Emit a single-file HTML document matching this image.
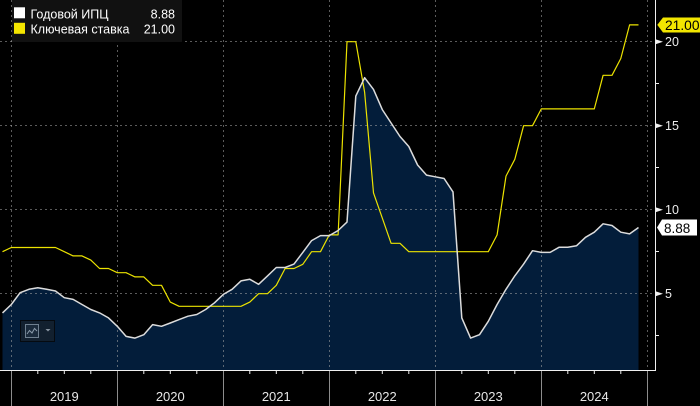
<!DOCTYPE html>
<html>
<head>
<meta charset="utf-8">
<style>
html,body{margin:0;padding:0;background:#000;}
svg{display:block;}
text{font-family:"Liberation Sans","DejaVu Sans",sans-serif;}
</style>
</head>
<body>
<svg width="700" height="406" viewBox="0 0 700 406" xmlns="http://www.w3.org/2000/svg">
<rect x="0" y="0" width="700" height="406" fill="#000"/>

<!-- CPI area -->
<polygon fill="#031d3a" points="2.5,370 2.5,312.9 11.3,304.5 20.1,292.7 29.0,289.3 37.8,287.7 46.6,289.3 55.5,291.0 64.3,297.7 73.1,299.4 82.0,304.5 90.8,309.5 99.6,312.9 108.5,317.9 117.3,326.3 126.1,336.4 135.0,338.1 143.8,334.7 152.6,324.6 161.5,326.3 170.3,323.0 179.1,319.6 188.0,316.2 196.8,314.5 205.6,309.5 214.5,302.8 223.3,294.4 232.1,289.3 241.0,280.9 249.8,279.3 258.6,284.3 267.5,275.9 276.3,267.5 285.1,267.5 294.0,264.1 302.8,252.4 311.6,240.6 320.5,235.6 329.3,235.6 338.1,230.5 347.0,222.1 355.8,96.1 364.6,77.7 373.5,89.4 382.3,109.6 391.1,123.0 400.0,136.5 408.8,146.5 417.6,165.0 426.5,175.1 435.3,176.8 444.1,178.5 453.0,191.9 461.8,317.9 470.6,338.1 479.5,334.7 488.3,321.3 497.1,304.5 506.0,289.3 514.8,275.9 523.6,264.1 532.5,250.7 541.3,252.4 550.1,252.4 559.0,247.3 567.8,247.3 576.6,245.7 585.5,237.3 594.3,232.2 603.1,223.8 612.0,225.5 620.8,232.2 629.6,233.9 638.5,227.5 638.5,370"/>

<!-- grid -->
<g stroke="rgba(165,165,165,0.55)" stroke-width="1" stroke-dasharray="2,3" fill="none">
<line x1="0" y1="41.5" x2="655" y2="41.5"/>
<line x1="0" y1="125.5" x2="655" y2="125.5"/>
<line x1="0" y1="209.5" x2="655" y2="209.5"/>
<line x1="0" y1="293.5" x2="655" y2="293.5"/>
<line x1="11.5" y1="0" x2="11.5" y2="370"/>
<line x1="117.5" y1="0" x2="117.5" y2="370"/>
<line x1="223.5" y1="0" x2="223.5" y2="370"/>
<line x1="329.5" y1="0" x2="329.5" y2="370"/>
<line x1="435.5" y1="0" x2="435.5" y2="370"/>
<line x1="541.5" y1="0" x2="541.5" y2="370"/>
<line x1="647.5" y1="0" x2="647.5" y2="370"/>
</g>

<!-- key rate -->
<polyline fill="none" stroke="#ece300" stroke-width="1.2" stroke-linejoin="round" points="2.5,251.7 11.3,247.5 55.5,247.5 64.3,251.7 73.1,255.9 82.0,255.9 90.8,260.1 99.6,268.5 108.5,268.5 117.3,272.7 126.1,272.7 135.0,276.9 143.8,276.9 152.6,285.3 161.5,285.3 170.3,302.1 179.1,306.3 241.0,306.3 249.8,302.1 258.6,293.7 267.5,293.7 276.3,285.3 285.1,268.5 294.0,268.5 302.8,264.3 311.6,251.7 320.5,251.7 329.3,234.9 338.1,234.9 347.0,41.7 355.8,41.7 364.6,92.1 373.5,192.9 382.3,218.1 391.1,243.3 400.0,243.3 408.8,251.7 488.3,251.7 497.1,234.9 506.0,176.1 514.8,159.3 523.6,125.7 532.5,125.7 541.3,108.9 594.3,108.9 603.1,75.3 612.0,75.3 620.8,58.5 629.6,24.9 638.5,24.9"/>

<!-- CPI line -->
<polyline fill="none" stroke="#dcdcdc" stroke-width="1.5" stroke-linejoin="round" points="2.5,312.9 11.3,304.5 20.1,292.7 29.0,289.3 37.8,287.7 46.6,289.3 55.5,291.0 64.3,297.7 73.1,299.4 82.0,304.5 90.8,309.5 99.6,312.9 108.5,317.9 117.3,326.3 126.1,336.4 135.0,338.1 143.8,334.7 152.6,324.6 161.5,326.3 170.3,323.0 179.1,319.6 188.0,316.2 196.8,314.5 205.6,309.5 214.5,302.8 223.3,294.4 232.1,289.3 241.0,280.9 249.8,279.3 258.6,284.3 267.5,275.9 276.3,267.5 285.1,267.5 294.0,264.1 302.8,252.4 311.6,240.6 320.5,235.6 329.3,235.6 338.1,230.5 347.0,222.1 355.8,96.1 364.6,77.7 373.5,89.4 382.3,109.6 391.1,123.0 400.0,136.5 408.8,146.5 417.6,165.0 426.5,175.1 435.3,176.8 444.1,178.5 453.0,191.9 461.8,317.9 470.6,338.1 479.5,334.7 488.3,321.3 497.1,304.5 506.0,289.3 514.8,275.9 523.6,264.1 532.5,250.7 541.3,252.4 550.1,252.4 559.0,247.3 567.8,247.3 576.6,245.7 585.5,237.3 594.3,232.2 603.1,223.8 612.0,225.5 620.8,232.2 629.6,233.9 638.5,227.5"/>

<!-- axes -->
<line x1="655.5" y1="0" x2="655.5" y2="371" stroke="#f0f0f0" stroke-width="1"/>
<line x1="0" y1="370.5" x2="656" y2="370.5" stroke="#f0f0f0" stroke-width="1"/>

<!-- year separators below axis -->
<g stroke="#8c8c8c" stroke-width="1">
<line x1="11.5" y1="371" x2="11.5" y2="406"/>
<line x1="117.5" y1="371" x2="117.5" y2="406"/>
<line x1="223.5" y1="371" x2="223.5" y2="406"/>
<line x1="329.5" y1="371" x2="329.5" y2="406"/>
<line x1="435.5" y1="371" x2="435.5" y2="406"/>
<line x1="541.5" y1="371" x2="541.5" y2="406"/>
<line x1="647.5" y1="371" x2="647.5" y2="406"/>
</g>
<!-- quarter ticks -->
<g stroke="#f0f0f0" stroke-width="1">
<line x1="37.8" y1="371" x2="37.8" y2="374"/>
<line x1="64.3" y1="371" x2="64.3" y2="374"/>
<line x1="90.8" y1="371" x2="90.8" y2="374"/>
<line x1="143.8" y1="371" x2="143.8" y2="374"/>
<line x1="170.3" y1="371" x2="170.3" y2="374"/>
<line x1="196.8" y1="371" x2="196.8" y2="374"/>
<line x1="249.8" y1="371" x2="249.8" y2="374"/>
<line x1="276.3" y1="371" x2="276.3" y2="374"/>
<line x1="302.8" y1="371" x2="302.8" y2="374"/>
<line x1="355.8" y1="371" x2="355.8" y2="374"/>
<line x1="382.3" y1="371" x2="382.3" y2="374"/>
<line x1="408.8" y1="371" x2="408.8" y2="374"/>
<line x1="461.8" y1="371" x2="461.8" y2="374"/>
<line x1="488.3" y1="371" x2="488.3" y2="374"/>
<line x1="514.8" y1="371" x2="514.8" y2="374"/>
<line x1="567.8" y1="371" x2="567.8" y2="374"/>
<line x1="594.3" y1="371" x2="594.3" y2="374"/>
<line x1="620.8" y1="371" x2="620.8" y2="374"/>
</g>
<g fill="#e6e6e6" font-size="13" text-anchor="middle">
<text x="64.3" y="401">2019</text>
<text x="170.3" y="401">2020</text>
<text x="276.3" y="401">2021</text>
<text x="382.3" y="401">2022</text>
<text x="488.3" y="401">2023</text>
<text x="594.3" y="401">2024</text>
</g>

<!-- right axis ticks -->
<g fill="#f0f0f0">
<polygon points="655.5,39.2 663,41.7 655.5,44.2"/>
<polygon points="655.5,123.2 663,125.7 655.5,128.2"/>
<polygon points="655.5,207.2 663,209.7 655.5,212.2"/>
<polygon points="655.5,291.2 663,293.7 655.5,296.2"/>
</g>
<g stroke="#f0f0f0" stroke-width="1">
<line x1="655" y1="83.5" x2="659" y2="83.5"/>
<line x1="655" y1="167.5" x2="659" y2="167.5"/>
<line x1="655" y1="251.5" x2="659" y2="251.5"/>
<line x1="655" y1="335.5" x2="659" y2="335.5"/>
</g>
<g fill="#ececec" font-size="12.5">
<text x="665" y="46.2">20</text>
<text x="665" y="130.2">15</text>
<text x="665" y="214.2">10</text>
<text x="665" y="298.2">5</text>
</g>

<!-- value labels -->
<polygon points="657.3,24.9 663,17.5 700,17.5 700,32.5 663,32.5" fill="#f2e600"/>
<text x="665" y="30.2" font-size="13.8" fill="#000">21.00</text>
<polygon points="657,227.5 662,219.5 697,219.5 697,235.5 662,235.5" fill="#ffffff"/>
<text x="664" y="233" font-size="13.5" fill="#000">8.88</text>

<!-- legend -->
<rect x="12" y="0" width="170" height="42" fill="#111111"/>
<rect x="14" y="7.3" width="11" height="11" fill="#ffffff"/>
<rect x="14" y="22.8" width="11" height="11" fill="#f5e600"/>
<g fill="#ffffff" font-size="12.5">
<text x="30.5" y="18.3">Годовой ИПЦ</text>
<text x="30.5" y="33.3">Ключевая ставка</text>
<text x="175" y="18.3" text-anchor="end">8.88</text>
<text x="175" y="33.3" text-anchor="end">21.00</text>
</g>

<!-- chart type icon -->
<rect x="20.5" y="320.5" width="34" height="21" fill="#12202f" stroke="#050a10" stroke-width="1"/>
<rect x="25.5" y="324.5" width="13" height="13" fill="#1a2a3b" stroke="#6f8090" stroke-width="1"/>
<polyline points="27,334 29.5,330.5 32,333 34.5,328.5 37,331" fill="none" stroke="#8a9aaa" stroke-width="1"/>
<polygon points="45.5,329 50.5,329 48,331.5" fill="#8793a0"/>
</svg>
</body>
</html>
